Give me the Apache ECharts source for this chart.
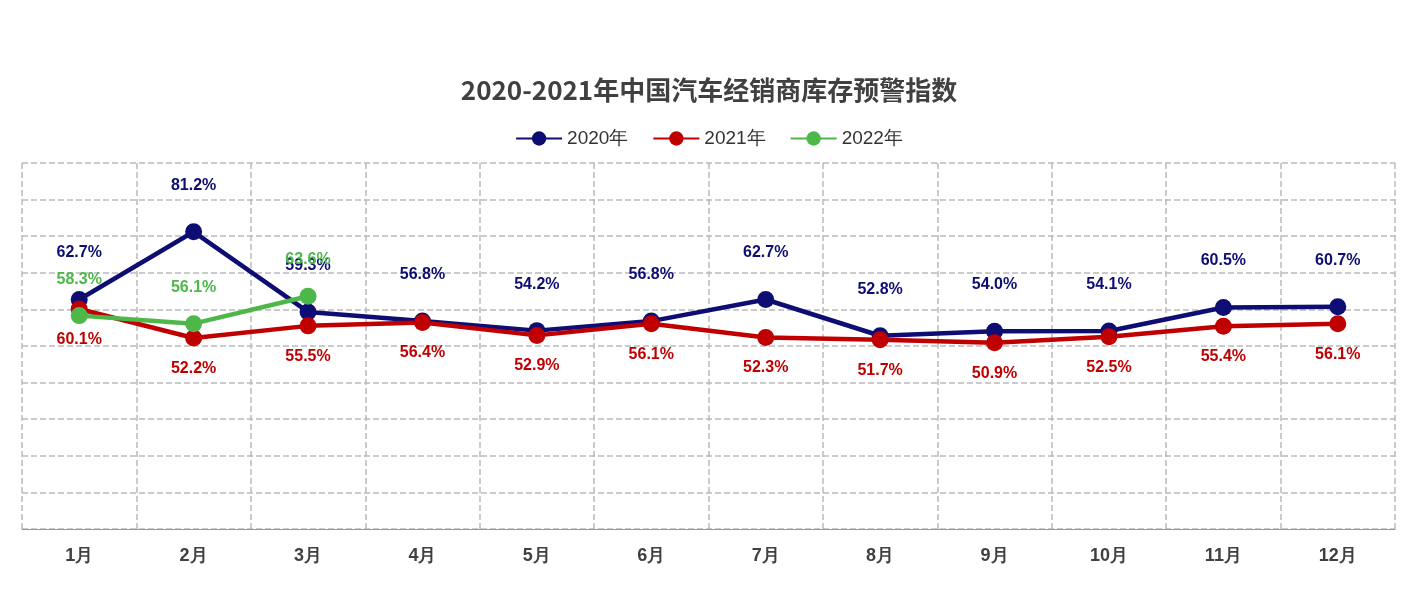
<!DOCTYPE html><html><head><meta charset="utf-8">
<script src="https://cdn.jsdelivr.net/npm/echarts@6/dist/echarts.min.js"></script>
<style>html,body{margin:0;padding:0;background:#fff}#c{width:1418px;height:591px}</style></head><body><div id="c"></div>
<script>
const categories=['1月','2月','3月','4月','5月','6月','7月','8月','9月','10月','11月','12月'];
const s2020=[62.7,81.2,59.3,56.8,54.2,56.8,62.7,52.8,54.0,54.1,60.5,60.7];
const s2021=[60.1,52.2,55.5,56.4,52.9,56.1,52.3,51.7,50.9,52.5,55.4,56.1];
const s2022=[58.3,56.1,63.6];
const lblFont={fontFamily:'Liberation Sans',fontWeight:'bold',fontSize:16,formatter:p=>p.value.toFixed(1)+'%'};
function ser(name,data,color,pos,dist){return{name,type:'line',data,symbol:'circle',symbolSize:17,
 lineStyle:{width:4.5,color},itemStyle:{color},label:Object.assign({show:true,position:pos,distance:dist,color},lblFont)};}
const chart=echarts.init(document.getElementById('c'));
chart.setOption({
 title:{text:'2020-2021年中国汽车经销商库存预警指数',left:'center',top:72,textStyle:{fontSize:26,fontWeight:'bold',color:'#404040',fontFamily:'Noto Sans CJK SC'}},
 legend:{top:124,itemWidth:46,itemHeight:18,itemGap:24,textStyle:{fontSize:19,color:'#333'},data:['2020年','2021年','2022年']},
 grid:{left:22,right:23,top:163,bottom:62},
 xAxis:{type:'category',data:categories,boundaryGap:true,
  axisLine:{lineStyle:{color:'#999'}},axisTick:{length:8,lineStyle:{color:'#999'}},
  splitLine:{show:true,lineStyle:{type:'dashed',color:'#bbb',width:1.5}},
  axisLabel:{fontSize:18,fontWeight:'bold',color:'#404040',margin:18}},
 yAxis:{type:'value',min:0,max:100,interval:10,axisLabel:{show:false},axisLine:{show:false},axisTick:{show:false},
  splitLine:{lineStyle:{type:'dashed',color:'#bbb',width:1.5}}},
 series:[ser('2020年',s2020,'#0d0d73','top',30),ser('2021年',s2021,'#c00000','bottom',14),ser('2022年',s2022,'#4db849','top',20)]
});
</script></body></html>
